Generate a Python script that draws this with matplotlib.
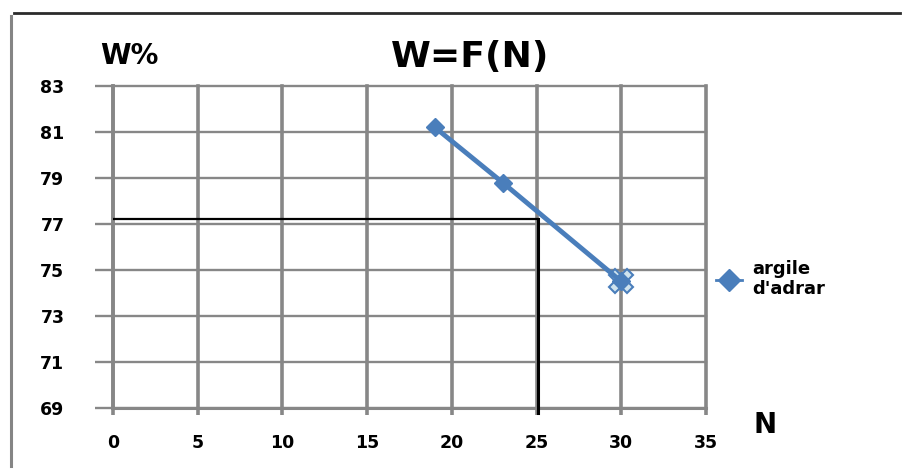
import matplotlib.pyplot as plt
from matplotlib.lines import Line2D

# essai sur l'argile d'Adrar : teneur en eau W% en fonction du nombre de coups N
N = [19, 23, 30]
W = [81.2, 78.8, 74.5]
serie = "argile\nd'adrar"

# lecture graphique de W pour N = 25
N_lu = 25.1
W_lu = 77.2

xticks = [0, 5, 10, 15, 20, 25, 30, 35]
yticks = [69, 71, 73, 75, 77, 79, 81, 83]

bleu = '#4a7ebb'
gris = '#878787'

fig = plt.figure(figsize=(9.08, 4.70), dpi=100)
fig.patch.set_facecolor('white')

# bord du cadre : trait haut sombre, trait gauche gris
fig.add_artist(Line2D([14/908, 900/908], [1 - 13/470, 1 - 13/470],
                      transform=fig.transFigure, color='#2b2b2b', linewidth=2))
fig.add_artist(Line2D([11/908, 11/908], [1 - 16/470, 1 - 466/470],
                      transform=fig.transFigure, color='#858585', linewidth=2.2))

ax = fig.add_axes([113/908, 1 - 408/470, (706 - 113)/908, (408 - 86)/470])
ax.set_xlim(0, 35)
ax.set_ylim(69, 83)
ax.set_xticks(xticks)
ax.set_yticks(yticks)
ax.grid(True, axis='x', color=gris, linewidth=2.6)
ax.grid(True, axis='y', color=gris, linewidth=1.7)
for gl in ax.get_xgridlines() + ax.get_ygridlines():
    gl.set_clip_on(False)
ax.set_axisbelow(True)
for s in ['top', 'right']:
    ax.spines[s].set_visible(False)
ax.spines['left'].set_color(gris)
ax.spines['left'].set_linewidth(2.6)
ax.spines['bottom'].set_color(gris)
ax.spines['bottom'].set_linewidth(2.2)

ax.tick_params(axis='y', length=13, width=1.7, color=gris, pad=22,
               labelsize=12.5)
ax.tick_params(axis='x', length=5, width=2.6, color=gris, pad=14,
               labelsize=12.5)
for lab in ax.get_xticklabels() + ax.get_yticklabels():
    lab.set_fontweight('bold')

# lignes de lecture
ax.plot([0, N_lu], [W_lu, W_lu], color='black', linewidth=1.6, zorder=3)
ax.plot([N_lu, N_lu], [68.8, W_lu], color='black', linewidth=2.2,
        zorder=3, clip_on=False)

ax.plot(N, W, color=bleu, linewidth=3.5, marker='D', markersize=9,
        markeredgecolor=bleu, zorder=4)
# point sélectionné
ax.plot(N[-1], W[-1], marker='X', markersize=17, color='#cfe3ee',
        markeredgecolor=bleu, markeredgewidth=1.5, zorder=3.5)

fig.text(470/908, 1 - 57/470, 'W=F(N)', fontsize=26, fontweight='bold',
         ha='center', va='center')
fig.text(100/908, 1 - 56/470, 'W%', fontsize=20, fontweight='bold',
         ha='left', va='center')
fig.text(754/908, 1 - 425/470, 'N', fontsize=20, fontweight='bold',
         ha='left', va='center')

poignee = Line2D([], [], color=bleu, marker='D', markersize=11, linewidth=2)
leg = fig.legend([poignee], [serie], loc='center left',
                 bbox_to_anchor=(700/908, 1 - 279/470), frameon=False,
                 handlelength=1.4, handletextpad=0.6,
                 prop={'weight': 'bold', 'size': 13})

fig.savefig('out.png', dpi=100)
